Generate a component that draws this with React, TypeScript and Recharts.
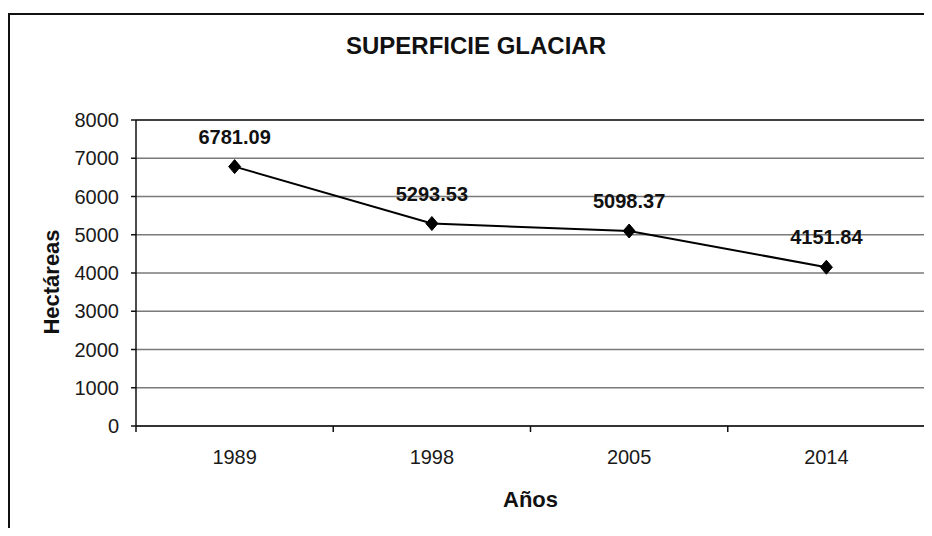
import React from 'react';
import { LineChart, Line, XAxis, YAxis, CartesianGrid, ReferenceLine, LabelList, Label } from 'recharts';

const years = ['1989', '1998', '2005', '2014'];
const hectares = [6781.09, 5293.53, 5098.37, 4151.84];
const yTicks = [0, 1000, 2000, 3000, 4000, 5000, 6000, 7000, 8000];
const xTicks = [0, 0.5, 1, 1.5, 2, 2.5, 3, 3.5, 4];

const data = years.map((year, i) => ({ pos: i + 0.5, year, value: hectares[i] }));

const FONT = '"Liberation Sans", Arial, sans-serif';

const XTick = (props: any) => {
  const { x, y, payload } = props;
  const v = payload.value as number;
  if (Number.isInteger(v)) {
    return <line x1={x} y1={y} x2={x} y2={y + 6} stroke="#111" strokeWidth={1.5} />;
  }
  return (
    <text x={x} y={y + 38} textAnchor="middle" fontFamily={FONT} fontSize={20} fill="#1a1a1a">
      {years[Math.floor(v)]}
    </text>
  );
};

const Diamond = (props: any) => {
  const { cx, cy, index } = props;
  if (cx == null || cy == null) return null;
  return (
    <polygon
      key={`d-${index}`}
      points={`${cx},${cy - 7} ${cx + 6},${cy} ${cx},${cy + 7} ${cx - 6},${cy}`}
      fill="#000"
      stroke="#000"
    />
  );
};

export default function App() {
  return (
    <div style={{ position: 'relative', margin: -8, width: 932, height: 536, overflow: 'hidden', background: '#fff' }}>
      <div style={{ position: 'absolute', left: 8, top: 13, width: 924, height: 2, background: '#111' }} />
      <div style={{ position: 'absolute', left: 8, top: 13, width: 2, height: 523, background: '#111' }} />
      <div
        style={{
          position: 'absolute',
          left: 476,
          top: 32,
          transform: 'translateX(-50%)',
          fontFamily: FONT,
          fontWeight: 'bold',
          fontSize: 24,
          color: '#111',
          whiteSpace: 'nowrap',
        }}
      >
        SUPERFICIE GLACIAR
      </div>
      <div style={{ position: 'absolute', left: 0, top: 0 }}>
        <LineChart width={932} height={536} data={data} margin={{ top: 120, right: 7, left: 0, bottom: 0 }}>
          <CartesianGrid horizontal vertical={false} stroke="#7a7a7a" strokeWidth={1.5} />
          <XAxis
            dataKey="pos"
            type="number"
            domain={[0, 4]}
            ticks={xTicks}
            interval={0}
            tick={<XTick />}
            tickSize={0}
            tickMargin={0}
            tickLine={false}
            height={110}
            axisLine={{ stroke: '#111', strokeWidth: 1.5 }}
          >
            <Label
              content={(p: any) => {
                const vb = p.viewBox;
                return (
                  <text
                    x={vb.x + vb.width / 2}
                    y={vb.y + 81}
                    textAnchor="middle"
                    fontFamily={FONT}
                    fontWeight="bold"
                    fontSize={22}
                    fill="#111"
                  >
                    Años
                  </text>
                );
              }}
            />
          </XAxis>
          <YAxis
            type="number"
            domain={[0, 8000]}
            ticks={yTicks}
            interval={0}
            width={136}
            tickSize={5}
            tickMargin={12}
            tick={{ fontFamily: FONT, fontSize: 20, fill: '#1a1a1a' }}
            tickLine={{ stroke: '#111', strokeWidth: 1.5 }}
            axisLine={{ stroke: '#111', strokeWidth: 1.5 }}
          >
            <Label
              content={(p: any) => {
                const vb = p.viewBox;
                const cx = vb.x + 51;
                const cy = vb.y + vb.height / 2 + 9;
                return (
                  <text
                    x={cx}
                    y={cy}
                    transform={`rotate(-90, ${cx}, ${cy})`}
                    textAnchor="middle"
                    dominantBaseline="central"
                    fontFamily={FONT}
                    fontWeight="bold"
                    fontSize={22}
                    fill="#111"
                  >
                    Hectáreas
                  </text>
                );
              }}
            />
          </YAxis>
          <ReferenceLine y={8000} stroke="#222" strokeWidth={1.5} />
          <ReferenceLine x={4} stroke="#222" strokeWidth={1.5} />
          <Line
            type="linear"
            dataKey="value"
            stroke="#000"
            strokeWidth={2}
            dot={<Diamond />}
            activeDot={false}
            isAnimationActive={false}
          >
            <LabelList
              dataKey="value"
              position="top"
              offset={23}
              style={{ fontFamily: FONT, fontWeight: 'bold', fontSize: 20, fill: '#111' }}
              formatter={(v: any) => Number(v).toFixed(2)}
            />
          </Line>
        </LineChart>
      </div>
    </div>
  );
}
